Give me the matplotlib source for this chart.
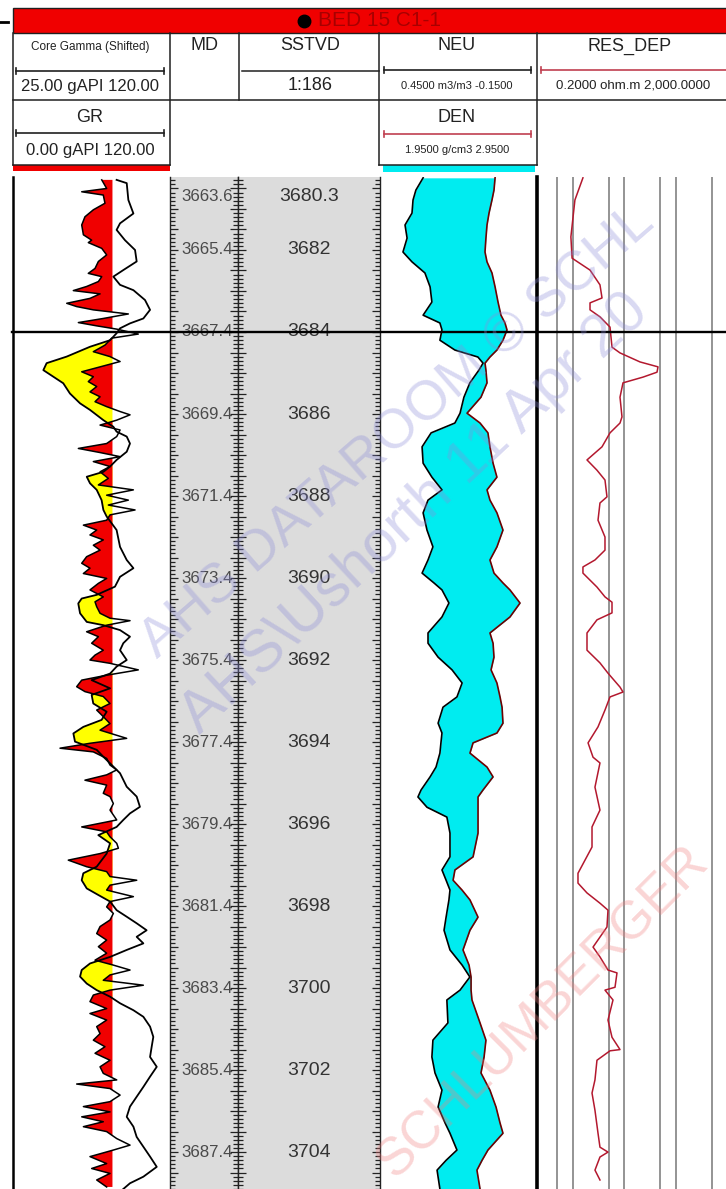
import numpy as np
import matplotlib.pyplot as plt
from matplotlib.patches import Rectangle
from matplotlib.ticker import MultipleLocator

plt.rcParams['font.family'] = ['Liberation Sans', 'DejaVu Sans']

W, H = 726, 1189

# GR (spiky) curve, SSTVD depth in m / gAPI
gr_depth = [
    3680.29, 3680.50, 3680.58, 3680.66, 3680.86, 3681.02, 3681.19, 3681.39, 3681.63, 3681.76,
    3681.82, 3681.96, 3682.12, 3682.28, 3682.45, 3682.57, 3682.65, 3682.77, 3682.89, 3682.99,
    3683.07, 3683.18, 3683.30, 3683.38, 3683.46, 3683.56, 3683.67, 3683.77, 3683.85, 3683.93,
    3684.05, 3684.15, 3684.32, 3684.48, 3684.60, 3684.72, 3684.85, 3684.97, 3685.09, 3685.21,
    3685.33, 3685.46, 3685.58, 3685.70, 3685.82, 3685.94, 3686.02, 3686.15, 3686.27, 3686.39,
    3686.55, 3686.72, 3686.84, 3686.94, 3687.04, 3687.16, 3687.28, 3687.41, 3687.57, 3687.73,
    3687.85, 3687.98, 3688.10, 3688.22, 3688.34, 3688.46, 3688.59, 3688.71, 3688.83, 3688.95,
    3689.07, 3689.20, 3689.32, 3689.48, 3689.64, 3689.76, 3689.89, 3690.01, 3690.13, 3690.29,
    3690.46, 3690.58, 3690.70, 3690.86, 3690.98, 3691.04, 3691.15, 3691.31, 3691.43, 3691.59,
    3691.76, 3691.88, 3692.00, 3692.08, 3692.24, 3692.37,
    3692.49, 3692.65, 3692.77, 3692.89, 3693.06, 3693.22, 3693.38, 3693.55, 3693.71, 3693.91,
    3694.03, 3694.15, 3694.24, 3694.40, 3694.56, 3694.68, 3694.80, 3694.93, 3695.05, 3695.25,
    3695.33, 3695.50, 3695.66, 3695.90, 3696.07, 3696.19, 3696.31, 3696.47, 3696.59, 3696.72,
    3696.88, 3697.04, 3697.16, 3697.28, 3697.37, 3697.49, 3697.61, 3697.77, 3697.89, 3698.02,
    3698.18, 3698.34, 3698.50, 3698.67, 3698.83, 3698.99, 3699.15, 3699.32, 3699.44, 3699.56,
    3699.68, 3699.81, 3699.93, 3700.05, 3700.17, 3700.33, 3700.50, 3700.62, 3700.78, 3700.94,
    3701.11, 3701.27, 3701.43, 3701.59, 3701.76, 3701.92, 3702.08, 3702.24, 3702.34, 3702.45,
    3702.61, 3702.77, 3702.89, 3703.02, 3703.14, 3703.26, 3703.38, 3703.50, 3703.67, 3703.83,
    3703.95, 3704.11, 3704.28, 3704.40, 3704.52, 3704.68, 3704.85]
gr = [
    68.7, 72.5, 53.2, 69.9, 71.2, 62.2, 55.7, 53.2, 54.5, 60.9,
    58.3, 68.7, 72.5, 66.1, 63.5, 58.3, 68.7, 66.1, 57.0, 46.7,
    67.4, 59.6, 41.6, 49.3, 62.2, 89.3, 69.9, 50.6, 64.8, 80.3,
    97.0, 76.4, 71.2, 62.2, 75.1, 82.9, 67.4, 53.2, 62.2, 58.3,
    64.8, 59.6, 67.4, 63.5, 72.5, 82.9, 90.6, 80.3, 67.4, 82.9,
    80.3, 72.5, 50.6, 67.4, 82.9, 62.2, 75.1, 67.4, 73.8, 66.1,
    93.2, 72.5, 89.3, 73.8, 94.5, 75.1, 72.5, 54.5, 64.8, 59.6,
    69.9, 62.2, 67.4, 57.0, 53.2, 59.6, 54.5, 72.5, 66.1, 59.6,
    69.9, 63.5, 64.8, 67.4, 75.1, 90.6, 72.5, 57.0, 66.1, 60.9,
    69.9, 63.5, 59.6, 75.1, 97.0, 72.5,
    53.2, 49.3, 55.7, 69.9, 75.1, 64.8, 69.9, 75.1, 67.4, 88.0,
    59.6, 36.4, 62.2, 72.5, 75.1, 80.3, 72.5, 55.7, 72.5, 69.9,
    75.1, 77.7, 75.1, 80.3, 53.2, 72.5, 75.1, 80.3, 81.6, 67.4,
    42.8, 57.0, 72.5, 75.1, 95.8, 75.1, 72.5, 93.2, 75.1, 72.5,
    77.7, 75.1, 67.4, 64.8, 72.5, 66.1, 72.5, 63.5, 77.7, 90.6,
    75.1, 69.9, 100.9, 75.1, 62.2, 59.6, 72.5, 59.6, 72.5, 64.8,
    67.4, 62.2, 71.2, 63.5, 75.1, 67.4, 69.9, 80.3, 49.3, 75.1,
    82.9, 75.1, 54.5, 75.1, 53.2, 69.9, 54.5, 72.5, 80.3, 90.6,
    77.7, 59.6, 72.5, 60.9, 75.1, 64.8, 72.5]

# Core Gamma (shifted), gAPI on a 25-120 scale
core_depth = [
    3680.29, 3680.37, 3680.78, 3681.11, 3681.35, 3681.51, 3681.76, 3682.00, 3682.28, 3682.49,
    3682.65, 3682.85, 3682.98, 3683.22, 3683.46, 3683.67, 3683.79, 3683.91, 3684.03, 3684.20,
    3684.36, 3684.60, 3684.76, 3684.93, 3685.09, 3685.25, 3685.50, 3685.74, 3685.90, 3686.15,
    3686.31, 3686.43, 3686.55, 3686.72, 3686.92, 3687.12, 3687.28, 3687.41, 3687.53, 3687.69,
    3687.85, 3688.10, 3688.34, 3688.50, 3688.83, 3689.24, 3689.56, 3689.76, 3689.97, 3690.21,
    3690.41, 3690.50, 3690.62, 3690.86, 3691.07, 3691.15, 3691.27, 3691.43, 3691.59, 3691.76,
    3692.00, 3692.16, 3692.33,
    3692.49, 3692.69, 3692.85, 3693.06, 3693.26, 3693.46, 3693.63, 3693.79, 3693.99, 3694.19,
    3694.36, 3694.52, 3694.76, 3695.09, 3695.33, 3695.58, 3695.74, 3695.90, 3696.07, 3696.27,
    3696.47, 3696.72, 3697.04, 3697.20, 3697.37, 3697.57, 3697.73, 3697.89, 3698.10, 3698.26,
    3698.42, 3698.59, 3698.75, 3698.91, 3699.07, 3699.24, 3699.40, 3699.56, 3699.72, 3699.89,
    3700.05, 3700.21, 3700.37, 3700.54, 3700.70, 3700.94, 3701.19, 3701.43, 3701.68, 3701.92,
    3702.16, 3702.41, 3702.65, 3702.89, 3703.14, 3703.38, 3703.63, 3703.87, 3704.11, 3704.36,
    3704.60, 3704.76, 3704.90]
core_gamma = [
    88.5, 94.7, 95.7, 98.8, 90.6, 88.5, 93.6, 99.8, 100.8, 92.6,
    86.5, 90.6, 98.8, 105.9, 109.0, 104.9, 96.7, 90.6, 88.5, 84.5,
    72.2, 57.9, 45.6, 43.6, 49.7, 55.8, 59.9, 66.1, 72.2, 80.4,
    86.5, 88.5, 94.7, 96.7, 94.7, 88.5, 84.5, 80.4, 70.2, 72.2,
    76.3, 79.3, 80.4, 82.4, 88.5, 90.6, 94.7, 98.8, 90.6, 87.5,
    76.3, 67.1, 65.0, 66.1, 70.2, 80.4, 90.6, 96.7, 92.6, 90.6,
    94.7, 88.5, 84.5,
    73.2, 84.5, 73.2, 74.2, 82.4, 79.3, 68.1, 62.0, 63.0, 76.3,
    80.4, 84.5, 90.6, 94.7, 100.8, 102.8, 96.7, 92.6, 88.5, 77.3,
    84.5, 82.4, 76.3, 68.1, 67.1, 70.2, 77.3, 84.5, 88.5, 94.7,
    100.8, 106.9, 100.8, 104.9, 94.7, 84.5, 72.2, 67.1, 66.1, 70.2,
    76.3, 84.5, 90.6, 98.8, 104.9, 109.0, 111.0, 110.0, 109.0, 113.1,
    109.0, 104.9, 100.8, 96.7, 94.7, 98.8, 100.8, 104.9, 109.0, 113.1,
    104.9, 96.7, 92.6]

# Neutron (m3/m3) and density (g/cm3)
nd_depth = [
    3680.24, 3680.54, 3680.78, 3681.10, 3681.39, 3681.71, 3682.05, 3682.29, 3682.56, 3682.90,
    3683.27, 3683.59, 3683.78, 3683.95, 3684.20, 3684.44, 3684.61, 3684.76, 3684.93, 3685.24,
    3685.59, 3685.98, 3686.22, 3686.46, 3686.80, 3687.20, 3687.54, 3687.85, 3688.10, 3688.41,
    3688.83, 3689.24, 3689.56, 3689.88, 3690.12, 3690.29, 3690.61, 3690.95, 3691.34, 3691.59,
    3691.93, 3692.24, 3692.56, 3692.90, 3693.15, 3693.54, 3693.78, 3694.02, 3694.27, 3694.61,
    3694.85, 3695.17, 3695.34, 3695.59, 3695.83, 3696.22, 3696.80, 3697.12, 3697.37, 3697.61,
    3697.85, 3698.27, 3698.59, 3699.07, 3699.44, 3699.73, 3700.05, 3700.29, 3700.85, 3701.27,
    3701.68, 3702.07, 3702.49, 3702.90, 3703.29, 3703.54, 3703.95, 3704.20, 3704.44, 3704.90]
neu = [
    0.287, 0.315, 0.326, 0.330, 0.357, 0.349, 0.365, 0.330, 0.280, 0.260,
    0.253, 0.287, 0.222, 0.214, 0.222, 0.164, 0.075, 0.055, 0.071, 0.106,
    0.129, 0.144, 0.164, 0.256, 0.291, 0.287, 0.253, 0.214, 0.268, 0.287,
    0.272, 0.249, 0.268, 0.291, 0.245, 0.214, 0.187, 0.214, 0.268, 0.268,
    0.229, 0.175, 0.136, 0.156, 0.210, 0.229, 0.214, 0.218, 0.222, 0.237,
    0.260, 0.295, 0.307, 0.272, 0.195, 0.183, 0.183, 0.214, 0.198, 0.183,
    0.187, 0.198, 0.206, 0.183, 0.136, 0.106, 0.144, 0.195, 0.191, 0.249,
    0.253, 0.241, 0.214, 0.229, 0.202, 0.183, 0.156, 0.198, 0.233, 0.222]
den = [
    2.686, 2.679, 2.666, 2.647, 2.634, 2.627, 2.621, 2.634, 2.666, 2.686,
    2.705, 2.724, 2.750, 2.763, 2.737, 2.698, 2.653, 2.621, 2.627, 2.634,
    2.595, 2.505, 2.589, 2.640, 2.653, 2.673, 2.698, 2.634, 2.653, 2.698,
    2.737, 2.698, 2.653, 2.679, 2.737, 2.782, 2.847, 2.782, 2.653, 2.673,
    2.679, 2.660, 2.698, 2.718, 2.731, 2.737, 2.698, 2.544, 2.524, 2.634,
    2.673, 2.608, 2.576, 2.576, 2.576, 2.576, 2.544, 2.427, 2.415, 2.473,
    2.524, 2.576, 2.524, 2.479, 2.518, 2.531, 2.531, 2.537, 2.589, 2.627,
    2.615, 2.595, 2.653, 2.692, 2.718, 2.737, 2.640, 2.602, 2.569, 2.589]

# Deep resistivity (ohm.m)
res_depth = [
    3680.24, 3680.78, 3681.68, 3682.20, 3682.49, 3682.85, 3683.17, 3683.29, 3683.46, 3683.63,
    3683.88, 3684.37, 3684.51, 3684.73, 3684.85, 3684.98, 3685.10, 3685.24, 3685.59, 3686.07,
    3686.22, 3686.46, 3686.80, 3687.12, 3687.37, 3687.61, 3688.02, 3688.17, 3688.59, 3689.00,
    3689.32, 3689.56, 3689.73, 3689.88, 3690.22, 3690.46, 3690.59, 3690.85, 3691.02, 3691.34,
    3691.76, 3692.07, 3692.32, 3692.66, 3692.78, 3692.90, 3693.22, 3693.63, 3694.02, 3694.37,
    3694.51, 3695.10, 3695.66, 3696.07, 3696.56, 3696.88, 3697.20, 3697.44, 3697.68, 3697.93,
    3698.10, 3698.51, 3699.00, 3699.24, 3699.56, 3699.63, 3699.98, 3700.05, 3700.29, 3700.78,
    3701.20, 3701.50, 3701.53, 3701.76, 3702.24, 3702.56, 3702.98, 3703.54, 3703.88, 3704.00,
    3704.12, 3704.44, 3704.68]
res_dep = [
    1.56, 1.09, 0.91, 0.96, 2.14, 3.34, 3.66, 2.14, 2.14, 3.34,
    5.23, 5.72, 8.18, 20.0, 44.7, 42.8, 22.9, 9.35, 8.18, 8.94,
    8.18, 5.23, 3.66, 1.87, 2.92, 4.18, 4.57, 3.34, 3.06, 4.18,
    4.18, 2.67, 1.56, 1.56, 2.92, 4.18, 5.72, 5.72, 2.92, 1.87,
    1.87, 3.34, 4.78, 8.18, 9.35, 5.23, 4.18, 3.06, 1.96, 2.45,
    3.34, 2.67, 3.34, 2.34, 2.34, 1.71, 1.25, 1.25, 1.87, 3.34,
    4.78, 4.57, 2.45, 3.34, 4.78, 7.15, 6.54, 4.18, 5.98, 4.78,
    5.72, 8.18, 5.23, 2.92, 2.67, 2.34, 2.67, 3.06, 3.34, 4.78,
    3.34, 2.67, 3.34]

sstvd_ticks = [3680.3, 3682, 3684, 3686, 3688, 3690, 3692, 3694, 3696, 3698, 3700, 3702, 3704]
md_labels = ["3663.6", "3665.4", "3667.4", "3669.4", "3671.4", "3673.4", "3675.4",
             "3677.4", "3679.4", "3681.4", "3683.4", "3685.4", "3687.4"]
res_grid = [0.5, 1, 5, 10, 50, 100, 500, 1000]
zone_top = 3684.0
gr_cutoff = 77
top_depth, base_depth = 3680.22, 3704.90


def rect(x0, y0, x1, y1):
    # pixel box -> figure fraction
    return [x0 / W, 1 - y1 / H, (x1 - x0) / W, (y1 - y0) / H]


fig = plt.figure(figsize=(W / 100, H / 100), dpi=100)
fig.patch.set_facecolor('white')

TOP = 177

# ---- GR track ----
ax_gr = fig.add_axes(rect(13, TOP, 168, H))
ax_gr.set_xlim(0, 120)
ax_gr.set_ylim(base_depth, top_depth)
core_x = (np.array(core_gamma) - 25) * 120 / 95
gr_a = np.array(gr)
ax_gr.fill_betweenx(core_depth, core_x, gr_cutoff, where=core_x < gr_cutoff,
                    interpolate=True, color='#ffff00', lw=0)
ax_gr.fill_betweenx(gr_depth, gr_a, gr_cutoff, where=gr_a < gr_cutoff,
                    interpolate=True, color='#f00000', lw=0)
ax_gr.plot(core_x, core_depth, color='black', lw=1.3)
ax_gr.plot(gr_a, gr_depth, color='black', lw=1.1)
for s in ['top', 'right', 'bottom']:
    ax_gr.spines[s].set_visible(False)
ax_gr.spines['left'].set_linewidth(1.8)
ax_gr.set_xticks([])
ax_gr.set_yticks([])

# ---- depth tracks ----
ax_md = fig.add_axes(rect(170, TOP, 238, H))
ax_tvd = fig.add_axes(rect(238, TOP, 380, H))
for ax in (ax_md, ax_tvd):
    ax.set_facecolor('#dcdcdc')
    ax.set_ylim(base_depth, top_depth)
    ax.set_xlim(0, 1)
    ax.set_xticks([])
    ax.yaxis.set_major_locator(MultipleLocator(0.5))
    ax.yaxis.set_minor_locator(MultipleLocator(0.1))
    ax.tick_params(axis='y', which='both', left=True, right=True, direction='in',
                   labelleft=False, labelright=False, color='#222222', width=0.9)
    ax.tick_params(axis='y', which='major', length=6)
    ax.tick_params(axis='y', which='minor', length=3.5)
    for s in ['top', 'bottom']:
        ax.spines[s].set_visible(False)
    for s in ['left', 'right']:
        ax.spines[s].set_color('#222222')
        ax.spines[s].set_linewidth(1.0)

for i, (d, md) in enumerate(zip(sstvd_ticks, md_labels)):
    off = -12 if i == 0 else 0
    ax_md.annotate(md, (0.93, d), xycoords=ax_md.get_yaxis_transform(),
                   xytext=(0, off), textcoords='offset points',
                   ha='right', va='center', fontsize=12.2, color='#4a4a4a')
    lab = f"{d:.1f}" if i == 0 else f"{d:.0f}"
    ax_tvd.annotate(lab, (0.5, d), xycoords=ax_tvd.get_yaxis_transform(),
                    xytext=(0, off), textcoords='offset points',
                    ha='center', va='center', fontsize=14, color='#333333')

# ---- neutron / density track ----
ax_nd = fig.add_axes(rect(381, TOP, 536, H))
ax_nd.set_xlim(0.45, -0.15)
ax_nd.set_ylim(base_depth, top_depth)
neu_a = np.array(neu)
den_on_neu = 0.45 - (np.array(den) - 1.95) * 0.6
ax_nd.fill_betweenx(nd_depth, neu_a, den_on_neu, where=neu_a > den_on_neu,
                    interpolate=True, color='#00ecf0', lw=0)
ax_nd.plot(neu_a, nd_depth, color='black', lw=1.2)
ax_den = ax_nd.twiny()
ax_den.set_xlim(1.95, 2.95)
ax_den.set_ylim(base_depth, top_depth)
ax_den.plot(den, nd_depth, color='#6e0000', lw=1.2)
for ax in (ax_nd, ax_den):
    ax.axis('off')

# ---- resistivity track ----
ax_res = fig.add_axes(rect(537, TOP, 743, H))
ax_res.set_xscale('log')
ax_res.set_xlim(0.2, 2000)
ax_res.set_ylim(base_depth, top_depth)
for g in res_grid:
    ax_res.axvline(g, color='#949494', lw=1.4)
ax_res.plot(res_dep, res_depth, color='#b3182e', lw=1.1)
for s in ['top', 'right', 'bottom']:
    ax_res.spines[s].set_visible(False)
ax_res.spines['left'].set_linewidth(2.6)
ax_res.set_xticks([], minor=True)
ax_res.set_xticks([])
ax_res.set_yticks([])

# zone top marker across all tracks
ax_res.plot([-2.55, 1.0], [zone_top, zone_top], transform=ax_res.get_yaxis_transform(),
            color='black', lw=1.7, clip_on=False, zorder=10)

# ---- header ----
hd = fig.add_axes([0, 0, 1, 1], zorder=5)
hd.set_xlim(0, W)
hd.set_ylim(H, 0)
hd.axis('off')
hd.patch.set_alpha(0)

hd.add_patch(Rectangle((13, 8), 760, 25, facecolor='#f00000', edgecolor='#202020', lw=1))
hd.plot([0, 8], [22, 22], color='black', lw=2)
hd.plot(304, 20.5, 'o', color='black', ms=9)
hd.text(318, 21, 'BED 15 C1-1', fontsize=15, color='#a80000', va='center', ha='left')

line_kw = dict(color='#202020', lw=1.1)
hd.plot([13, W], [100, 100], **line_kw)
hd.plot([13, 170], [165, 165], **line_kw)
hd.plot([379, 537], [165, 165], **line_kw)
for x, y1 in [(13, 165), (170, 165), (239, 100), (379, 165), (537, 165)]:
    hd.plot([x, x], [33, y1], **line_kw)
hd.plot([242, 379], [71, 71], **line_kw)


def scale_bar(x0, x1, y, color):
    hd.plot([x0, x1], [y, y], color=color, lw=1.2)
    for x in (x0, x1):
        hd.plot([x, x], [y - 3, y + 3], color=color, lw=1.2)


scale_bar(16, 164, 71, '#202020')
scale_bar(16, 164, 133, '#202020')
scale_bar(384, 531, 70, '#202020')
scale_bar(384, 531, 134, '#c04050')
scale_bar(541, 760, 70, '#c04050')

hd.add_patch(Rectangle((13, 165), 157, 6, facecolor='#f00000', lw=0))
hd.add_patch(Rectangle((383, 165), 152, 7, facecolor='#00ecf0', lw=0))

txt = dict(ha='center', va='center', color='#222222')
hd.text(90, 47, 'Core Gamma (Shifted)', fontsize=8.5, **txt)
hd.text(90, 87, '25.00 gAPI 120.00', fontsize=12, **txt)
hd.text(90, 117, 'GR', fontsize=13, **txt)
hd.text(90, 150, '0.00 gAPI 120.00', fontsize=12, **txt)
hd.text(205, 46, 'MD', fontsize=13, **txt)
hd.text(310, 46, 'SSTVD', fontsize=13, **txt)
hd.text(310, 86, '1:186', fontsize=13, **txt)
hd.text(457, 46, 'NEU', fontsize=13, **txt)
hd.text(457, 86, '0.4500 m3/m3 -0.1500', fontsize=8, **txt)
hd.text(457, 117, 'DEN', fontsize=13, **txt)
hd.text(457, 150, '1.9500 g/cm3 2.9500', fontsize=8, **txt)
hd.text(630, 46, 'RES_DEP', fontsize=13, **txt)
hd.text(633, 86, '0.2000 ohm.m 2,000.0000', fontsize=9.5, **txt)

# watermarks
wm = dict(ha='left', va='baseline', rotation_mode='anchor')
hd.text(158, 660, 'AHS DATAROOM © SCHL', fontsize=40, rotation=41,
        color='#8c8cd8', alpha=0.33, **wm)
hd.text(200, 735, 'AHS\\Ushorth 11 Apr 20', fontsize=43, rotation=43,
        color='#8c8cd8', alpha=0.33, **wm)
hd.text(395, 1180, 'SCHLUMBERGER', fontsize=38, rotation=45,
        color='#f08080', alpha=0.33, **wm)

fig.savefig('out.png', dpi=100)
